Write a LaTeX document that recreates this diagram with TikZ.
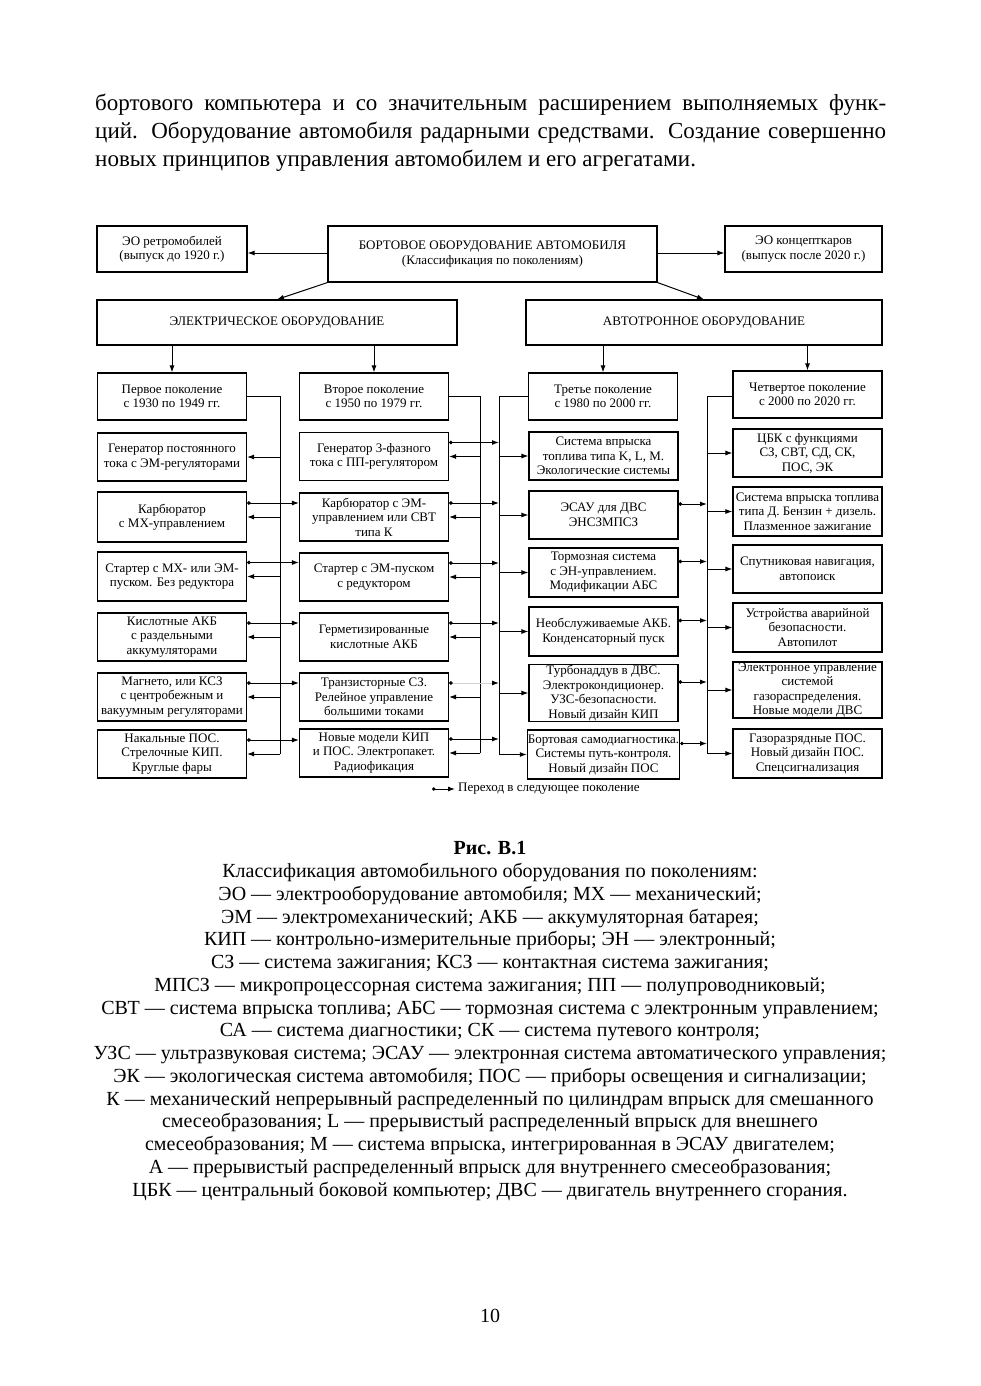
\documentclass[tikz,border=0pt]{standalone}
\usepackage{fontspec}
\setmainfont{Liberation Serif}
\usetikzlibrary{arrows.meta,calc}
\newcommand\bxfont{\fontsize{13}{14.5}\selectfont}
\tikzset{
  box/.style={draw, line width=1.1pt, align=center, inner sep=0.5pt, font=\bxfont},
  item/.style={box, minimum width=149pt, minimum height=48pt},
  arr/.style={line width=1pt, -{Latex[length=7pt,width=5pt]}},
  trans/.style={line width=1pt, {Circle[length=3.5pt]}-{Latex[length=7pt,width=5pt]}},
  transgray/.style={line width=1pt, draw=gray!35, {Circle[length=3.5pt,black]}-{Latex[length=7pt,width=5pt,black]}},
  line/.style={line width=1pt}
}
\begin{document}
\begin{tikzpicture}[x=1pt,y=-1pt]
\useasboundingbox (0,0) rectangle (980,1386);

\node[anchor=base west, inner sep=0, font=\fontsize{23}{27.5}\selectfont] (par1) at (95,111)
  {\makebox[791pt][s]{бортового компьютера и со значительным расширением выполняемых функ-}};
\node[anchor=base west, inner sep=0, font=\fontsize{23}{27.5}\selectfont] (par2) at (95,139)
  {\makebox[791pt][s]{ций. Оборудование автомобиля радарными средствами. Создание совершенно}};
\node[anchor=base west, inner sep=0, font=\fontsize{23}{27.5}\selectfont] (par3) at (95,166)
  {новых принципов управления автомобилем и его агрегатами.};

\node[box, minimum width=150pt, minimum height=46pt] (retro) at (172,249) {ЭО ретромобилей\\(выпуск до 1920 г.)};
\node[box, minimum width=329pt, minimum height=56pt] (main) at (492.5,254) {БОРТОВОЕ ОБОРУДОВАНИЕ АВТОМОБИЛЯ\\(Классификация по поколениям)};
\node[box, minimum width=157pt, minimum height=46pt] (concept) at (803.5,249) {ЭО концепткаров\\(выпуск после 2020 г.)};
\node[box, minimum width=360pt, minimum height=45pt] (electric) at (277,322.5) {ЭЛЕКТРИЧЕСКОЕ ОБОРУДОВАНИЕ};
\node[box, minimum width=356pt, minimum height=45pt] (autotron) at (704,322.5) {АВТОТРОННОЕ ОБОРУДОВАНИЕ};

\draw[arr] (main.west |- 0,253) -- (retro.east |- 0,253);
\draw[arr] (main.east |- 0,253) -- (concept.west |- 0,253);
\draw[arr] (main.south west) -- (electric.north);
\draw[arr] (main.south east) -- (autotron.north);

\node[item, minimum height=47pt] (gen1) at (172,396.5) {Первое поколение\\с 1930 по 1949 гг.};
\node[item, minimum height=47pt] (gen2) at (374,396.5) {Второе поколение\\с 1950 по 1979 гг.};
\node[item, minimum height=47pt] (gen3) at (603,396.5) {Третье поколение\\с 1980 по 2000 гг.};
\node[item, minimum height=47pt] (gen4) at (807.5,394.5) {Четвертое поколение\\с 2000 по 2020 гг.};

\draw[arr] (electric.south -| gen1.north) -- (gen1.north);
\draw[arr] (electric.south -| gen2.north) -- (gen2.north);
\draw[arr] (autotron.south -| gen3.north) -- (gen3.north);
\draw[arr] (autotron.south -| gen4.north) -- (gen4.north);

\node[item] (c1r1) at (172,457) {Генератор постоянного\\тока с ЭМ-регуляторами};
\node[item, minimum height=50pt] (c1r2) at (172,517) {Карбюратор\\с МХ-управлением};
\node[item, minimum height=49pt] (c1r3) at (172,576.5) {Стартер с МХ- или ЭМ-\\пуском. Без редуктора};
\node[item] (c1r4) at (172,637) {Кислотные АКБ\\с раздельными\\аккумуляторами};
\node[item] (c1r5) at (172,697) {Магнето, или КСЗ\\с центробежным и\\вакуумным регуляторами};
\node[item] (c1r6) at (172,754) {Накальные ПОС.\\Стрелочные КИП.\\Круглые фары};

\node[item] (c2r1) at (374,456.5) {Генератор 3-фазного\\тока с ПП-регулятором};
\node[item] (c2r2) at (374,517) {Карбюратор с ЭМ-\\управлением или СВТ\\типа К};
\node[item] (c2r3) at (374,577) {Стартер с ЭМ-пуском\\с редуктором};
\node[item] (c2r4) at (374,637) {Герметизированные\\кислотные АКБ};
\node[item] (c2r5) at (374,697) {Транзисторные СЗ.\\Релейное управление\\большими токами};
\node[item] (c2r6) at (374,753) {Новые модели КИП\\и ПОС. Электропакет.\\Радиофикация};

\node[item] (c3r1) at (603.5,456) {Система впрыска\\топлива типа K, L, M.\\Экологические системы};
\node[item] (c3r2) at (603.5,515) {ЭСАУ для ДВС\\ЭНСЗМПСЗ};
\node[item, minimum height=49pt] (c3r3) at (603.5,572.5) {Тормозная система\\с ЭН-управлением.\\Модификации АБС};
\node[item, minimum height=49pt] (c3r4) at (603.5,631.5) {Необслуживаемые АКБ.\\Конденсаторный пуск};
\node[item, minimum height=56pt] (c3r5) at (603.5,693) {Турбонаддув в ДВС.\\Электрокондиционер.\\УЗС-безопасности.\\Новый дизайн КИП};
\node[item, minimum height=49pt] (c3r6) at (603.5,754.5) {Бортовая самодиагностика.\\Системы путь-контроля.\\Новый дизайн ПОС};

\node[item] (c4r1) at (807.5,453) {ЦБК с функциями\\СЗ, СВТ, СД, СК,\\ПОС, ЭК};
\node[item, minimum height=49pt] (c4r2) at (807.5,511.5) {Система впрыска топлива\\типа Д. Бензин + дизель.\\Плазменное зажигание};
\node[item] (c4r3) at (807.5,569) {Спутниковая навигация,\\автопоиск};
\node[item, minimum height=49pt] (c4r4) at (807.5,627.5) {Устройства аварийной\\безопасности.\\Автопилот};
\node[item, minimum height=56pt] (c4r5) at (807.5,690) {Электронное управление\\системой\\газораспределения.\\Новые модели ДВС};
\node[item, minimum height=49pt] (c4r6) at (807.5,753.5) {Газоразрядные ПОС.\\Новый дизайн ПОС.\\Спецсигнализация};

\coordinate (bus1) at (280,396.5);
\coordinate (bus2) at (480,396.5);
\coordinate (bus3) at (499,396.5);
\coordinate (bus4) at (707,396.5);

\draw[line] (gen1.east |- bus1) -- (bus1) -- (bus1 |- c1r6.east);
\draw[line] (gen2.east |- bus2) -- (bus2) -- (bus2 |- c2r6.east);
\draw[line] (gen3.west |- bus3) -- (bus3) -- (bus3 |- c3r6.west);
\draw[line] (gen4.west |- bus4) -- (bus4) -- (bus4 |- c4r6.west);

\foreach \r in {1,...,6}{
  \draw[arr] (bus1 |- c1r\r.east) -- (c1r\r.east);
  \draw[arr] (bus2 |- c2r\r.east) -- (c2r\r.east);
  \draw[arr] (bus3 |- c3r\r.west) -- (c3r\r.west);
  \draw[arr] (bus4 |- c4r\r.west) -- (c4r\r.west);
}

\foreach \r in {2,...,6}
  \draw[trans] ([yshift=14pt]c1r\r.east) -- ([yshift=14pt]c1r\r.east -| c2r\r.west);
\foreach \r in {1,2,3,4,6}
  \draw[trans] ([yshift=14pt]c2r\r.east) -- ([yshift=14pt]c2r\r.east -| bus3);
\draw[transgray] ([yshift=14pt]c2r5.east) -- ([yshift=14pt]c2r5.east -| bus3);
\foreach \r in {2,...,6}
  \draw[trans] ([yshift=11pt]c3r\r.east) -- ([yshift=11pt]c3r\r.east -| bus4);

\coordinate (lgA) at (432,789);
\node[anchor=west, inner sep=3pt, font=\bxfont] (legend) at (455,789) {Переход в следующее поколение};
\draw[trans] (lgA) -- (legend.west);

\node[anchor=north, inner sep=0, align=center, font=\fontsize{20}{22.75}\selectfont] (caption) at (490,841.5)
  {\textbf{Рис. В.1}\\
   Классификация автомобильного оборудования по поколениям:\\
   ЭО — электрооборудование автомобиля; МХ — механический;\\
   ЭМ — электромеханический; АКБ — аккумуляторная батарея;\\
   КИП — контрольно-измерительные приборы; ЭН — электронный;\\
   СЗ — система зажигания; КСЗ — контактная система зажигания;\\
   МПСЗ — микропроцессорная система зажигания; ПП — полупроводниковый;\\
   СВТ — система впрыска топлива; АБС — тормозная система с электронным управлением;\\
   СА — система диагностики; СК — система путевого контроля;\\
   УЗС — ультразвуковая система; ЭСАУ — электронная система автоматического управления;\\
   ЭК — экологическая система автомобиля; ПОС — приборы освещения и сигнализации;\\
   К — механический непрерывный распределенный по цилиндрам впрыск для смешанного\\
   смесеобразования; L — прерывистый распределенный впрыск для внешнего\\
   смесеобразования; М — система впрыска, интегрированная в ЭСАУ двигателем;\\
   А — прерывистый распределенный впрыск для внутреннего смесеобразования;\\
   ЦБК — центральный боковой компьютер; ДВС — двигатель внутреннего сгорания.};

\node[font=\fontsize{20}{24}\selectfont] (pagenum) at (490,1316) {10};
\end{tikzpicture}
\end{document}
